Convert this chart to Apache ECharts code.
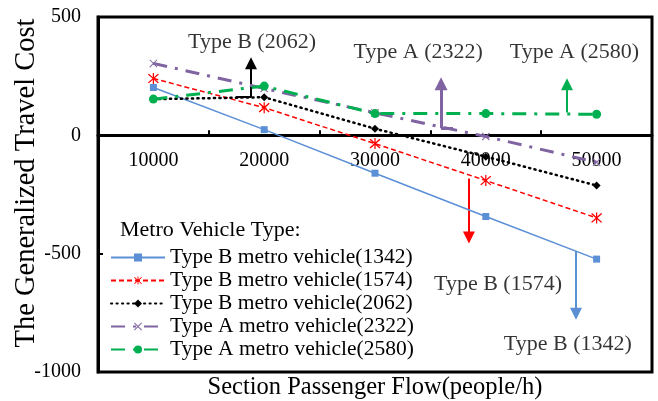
<!DOCTYPE html>
<html>
<head>
<meta charset="utf-8">
<script src="https://cdn.jsdelivr.net/npm/echarts@6/dist/echarts.min.js"></script>
<style>
  html, body { margin: 0; padding: 0; background: #fff; }
  #chart { width: 658px; height: 401px; }
</style>
</head>
<body>
<div id="chart"></div>
<script>
// Section passenger flow categories (people/h)
const flows = ['10000', '20000', '30000', '40000', '50000'];

// Generalized travel cost for each metro vehicle type
const costB1342 = [202, 24, -160, -343, -523];
const costB1574 = [240, 117, -35, -191, -349];
const costB2062 = [153, 161, 28, -90, -212];
const costA2322 = [304, 198, 95, -5, -114];
const costA2580 = [153, 208, 92, 92, 89];

const seriesNames = [
  'Type B metro vehicle(1342)',
  'Type B metro vehicle(1574)',
  'Type B metro vehicle(2062)',
  'Type A metro vehicle(2322)',
  'Type A metro vehicle(2580)'
];

// Callout labels, placed in axis units (x = 1-based category position, y = cost)
const calloutText = [
  [1.89, 394, 'Type B (2062)'],
  [3.39, 352, 'Type A (2322)'],
  [4.80, 352, 'Type A (2580)'],
  [4.11, -627, 'Type B (1574)'],
  [4.74, -881, 'Type B (1342)']
];
// Callout leaders: [from, to] segments; arrowhead only on the pointing segment
const leaderB2062 = [[1.745, 161], [1.881, 161]];
const arrowB2062 = [[1.881, 161], [1.881, 305]];
const leaderA2322 = [[3.704, 30], [3.596, 30]];
const arrowA2322 = [[3.596, 30], [3.596, 218]];
const arrowA2580 = [[4.733, 97], [4.733, 216]];
const arrowB1574 = [[3.848, -182], [3.848, -432]];
const arrowB1342 = [[4.814, -490], [4.814, -754]];

const FONT = '"Liberation Serif", "Times New Roman", serif';

const asteriskPath = 'path://M9 0L11 0L11 20L9 20Z' +
  'M2.78 1.22L18.78 17.22L17.22 18.78L1.22 2.78Z' +
  'M17.22 1.22L18.78 2.78L2.78 18.78L1.22 17.22Z';
const crossPath = 'path://M2.78 1.22L18.78 17.22L17.22 18.78L1.22 2.78Z' +
  'M17.22 1.22L18.78 2.78L2.78 18.78L1.22 17.22Z';

function calloutSeries(segment, color, width, head) {
  return {
    type: 'lines',
    coordinateSystem: 'cartesian2d',
    xAxisIndex: 1,
    yAxisIndex: 0,
    silent: true,
    z: 4,
    symbol: head ? ['none', 'triangle'] : ['none', 'none'],
    symbolSize: head || 0,
    lineStyle: { color: color, width: width, opacity: 1, type: 'solid', curveness: 0 },
    data: [{ coords: segment }]
  };
}

const chart = echarts.init(document.getElementById('chart'), null, { renderer: 'canvas' });

chart.setOption({
  animation: false,
  backgroundColor: '#fff',
  textStyle: { fontFamily: FONT },
  grid: {
    left: 98, right: 6, top: 17, bottom: 29,
    containLabel: false,
    outerBoundsMode: 'none',
    show: true, borderColor: '#000', borderWidth: 3, backgroundColor: 'transparent'
  },
  legend: {
    orient: 'vertical',
    left: 110,
    top: 246,
    padding: 0,
    itemGap: 0,
    itemWidth: 54,
    itemHeight: 10,
    data: seriesNames,
    textStyle: { fontFamily: FONT, fontSize: 21.5, color: '#000', lineHeight: 23 }
  },
  graphic: [{
    type: 'text',
    left: 120,
    top: 219,
    style: { text: 'Metro Vehicle Type:', font: '22px ' + FONT, fill: '#000' }
  }, {
    type: 'text',
    x: 27,
    y: 183,
    rotation: Math.PI / 2,
    style: {
      text: 'The Generalized Travel Cost',
      font: '28.5px ' + FONT,
      fill: '#000',
      align: 'center',
      verticalAlign: 'middle'
    }
  }],
  xAxis: [{
    type: 'category',
    data: flows,
    boundaryGap: true,
    name: 'Section Passenger Flow(people/h)',
    nameLocation: 'middle',
    nameGap: 240,
    nameTextStyle: { fontFamily: FONT, fontSize: 24.5, color: '#000' },
    axisLine: { onZero: false, lineStyle: { color: '#000', width: 3 } },
    axisTick: { show: true, inside: true, length: 5, lineStyle: { color: '#000', width: 2 } },
    axisLabel: { fontFamily: FONT, fontSize: 20, color: '#000', margin: 15 },
    splitLine: { show: false }
  }, {
    type: 'value',
    min: 0.5,
    max: 5.5,
    show: false
  }],
  yAxis: {
    type: 'value',
    min: -1000,
    max: 500,
    interval: 500,
    axisLine: { show: true, onZero: false, lineStyle: { color: '#000', width: 3 } },
    axisTick: { show: true, inside: true, length: 5, lineStyle: { color: '#000', width: 2 } },
    axisLabel: { fontFamily: FONT, fontSize: 20, color: '#000', margin: 17, formatter: v => String(v) },
    splitLine: { show: false }
  },
  series: [
    {
      name: seriesNames[0], type: 'line', data: costB1342, z: 5,
      symbol: 'rect', symbolSize: 7,
      itemStyle: { color: '#5B8FD6' },
      lineStyle: { color: '#5B8FD6', width: 1.5, type: 'solid' }
    },
    {
      name: seriesNames[1], type: 'line', data: costB1574, z: 5,
      symbol: asteriskPath, symbolSize: 11,
      itemStyle: { color: '#FF0000' },
      lineStyle: { color: '#FF0000', width: 1.5, type: [5, 3] }
    },
    {
      name: seriesNames[2], type: 'line', data: costB2062, z: 5,
      symbol: 'diamond', symbolSize: 8,
      itemStyle: { color: '#000' },
      lineStyle: { color: '#000', width: 2.5, type: [1.2, 4.3], cap: 'round' }
    },
    {
      name: seriesNames[3], type: 'line', data: costA2322, z: 5,
      symbol: crossPath, symbolSize: 8,
      itemStyle: { color: '#8064A2' },
      lineStyle: { color: '#8064A2', width: 3, type: [14, 8, 3, 8] }
    },
    {
      name: seriesNames[4], type: 'line', data: costA2580, z: 5,
      symbol: 'circle', symbolSize: 9,
      itemStyle: { color: '#00B050' },
      lineStyle: { color: '#00B050', width: 3, type: [14, 8, 3, 8] }
    },
    calloutSeries(leaderB2062, '#000', 2, null),
    calloutSeries(arrowB2062, '#000', 2, [10, 12]),
    calloutSeries(leaderA2322, '#8064A2', 3, null),
    calloutSeries(arrowA2322, '#8064A2', 3, [13, 13]),
    calloutSeries(arrowA2580, '#00B050', 2, [11, 12]),
    calloutSeries(arrowB1574, '#FF0000', 2, [12, 12]),
    calloutSeries(arrowB1342, '#5B8FD6', 2, [12, 12]),
    {
      type: 'scatter',
      xAxisIndex: 1,
      yAxisIndex: 0,
      silent: true,
      symbolSize: 0,
      z: 6,
      data: calloutText,
      label: {
        show: true,
        position: 'inside',
        formatter: p => p.value[2],
        fontFamily: FONT,
        fontSize: 22,
        color: '#000'
      }
    }
  ]
});

// The flow axis crosses the cost axis at zero: shift it from the grid bottom
// to the pixel row of cost = 0 as given by the cost scale.
const zeroRow = chart.convertToPixel({ yAxisIndex: 0 }, 0);
const floorRow = chart.convertToPixel({ yAxisIndex: 0 }, -1000);
chart.setOption({ xAxis: [{ offset: zeroRow - floorRow }, {}] });
</script>
</body>
</html>
